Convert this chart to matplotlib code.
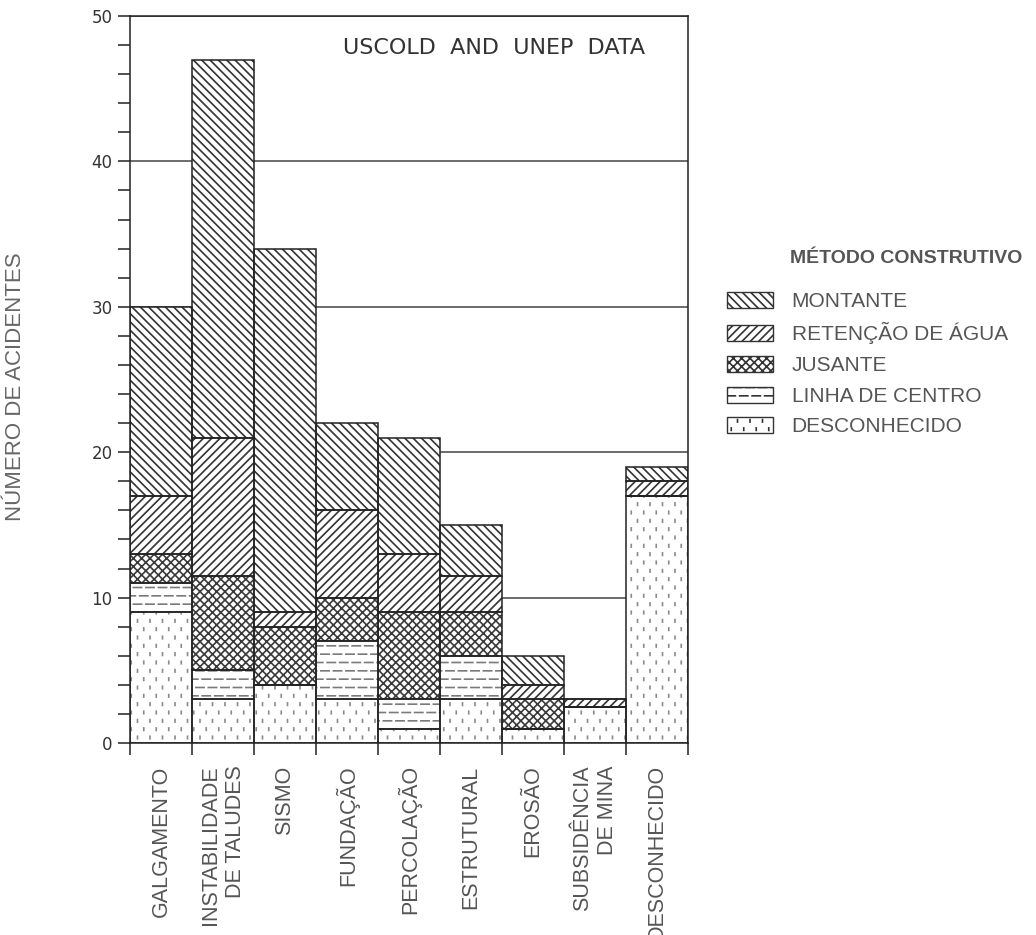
import warnings

import matplotlib
matplotlib.use('Agg')
import matplotlib.pyplot as plt
import matplotlib.hatch as mhatch
import matplotlib.patches as mpatches
from matplotlib.path import Path
import numpy as np

# custom hatch letters ('=' and ':') trigger a deprecation notice, harmless here
warnings.filterwarnings('ignore', message='hatch must consist')


class _StaggeredMarks(mhatch.HatchPatternBase):
    """Rows of short strokes, every other row shifted by half a step."""
    char = None
    col_ratio = 1.0
    half_dx = 0.0
    half_dy = 0.0

    def __init__(self, hatch, density):
        self.num_rows = int(hatch.count(self.char) * density)
        self.num_cols = max(1, int(round(self.num_rows * self.col_ratio))) if self.num_rows else 0
        n_even = (self.num_rows + 1) // 2
        n_odd = self.num_rows // 2
        self.num_vertices = 2 * (n_even * self.num_cols + n_odd * (self.num_cols + 1))

    def set_vertices_and_codes(self, vertices, codes):
        sy = 1.0 / self.num_rows
        sx = 1.0 / self.num_cols
        k = 0
        for r in range(self.num_rows):
            y = (r + 0.5) * sy
            if r % 2 == 0:
                xs = (np.arange(self.num_cols) + 0.5) * sx
            else:
                xs = np.arange(self.num_cols + 1) * sx
            for x in xs:
                vertices[k] = (x - self.half_dx * sx, y - self.half_dy * sy)
                vertices[k + 1] = (x + self.half_dx * sx, y + self.half_dy * sy)
                k += 2
        codes[0::2] = Path.MOVETO
        codes[1::2] = Path.LINETO


class DashHatch(_StaggeredMarks):
    char = '='
    col_ratio = 2 / 3
    half_dx = 0.33


class DotHatch(_StaggeredMarks):
    char = ':'
    col_ratio = 0.65
    half_dy = 0.15


mhatch._hatch_types.extend([DashHatch, DotHatch])

plt.rcParams['font.family'] = ['Liberation Sans', 'DejaVu Sans']
plt.rcParams['hatch.linewidth'] = 1.2

# ---- dados ----
categorias = ['GALGAMENTO', 'INSTABILIDADE\nDE TALUDES', 'SISMO', 'FUNDAÇÃO',
              'PERCOLAÇÃO', 'ESTRUTURAL', 'EROSÃO', 'SUBSIDÊNCIA\nDE MINA',
              'DESCONHECIDO']

# número de acidentes por método construtivo (empilhados de baixo para cima)
desconhecido = [9, 3, 4, 3, 1, 3, 1, 2.5, 17]
linha_centro = [2, 2, 0, 4, 2, 3, 0, 0, 0]
jusante = [2, 6.5, 4, 3, 6, 3, 2, 0, 0]
retencao = [4, 9.5, 1, 6, 4, 2.5, 1, 0.5, 1]
montante = [13, 26, 25, 6, 8, 3.5, 2, 0, 1]

series = [
    ('MONTANTE', montante, '\\\\\\\\', '#333333'),
    ('RETENÇÃO DE ÁGUA', retencao, '////', '#333333'),
    ('JUSANTE', jusante, 'xxxx', '#3a3a3a'),
    ('LINHA DE CENTRO', linha_centro, '==', '#7a7a7a'),
    ('DESCONHECIDO', desconhecido, '::', '#8a8a8a'),
]
empilhamento = list(reversed(series))  # desconhecido fica na base

fig = plt.figure(figsize=(10.36, 9.35), dpi=100)
ax = fig.add_axes([0.1255, 0.2053, 0.5386, 0.7776])

x = np.arange(len(categorias))
base = np.zeros(len(categorias))
for nome, valores, hatch, cor in empilhamento:
    v = np.array(valores, dtype=float)
    # textura
    ax.bar(x, v, width=1.0, bottom=base, color='white', edgecolor=cor,
           linewidth=0, hatch=hatch, zorder=2)
    # contorno
    ax.bar(x, v, width=1.0, bottom=base, fill=False, edgecolor='#222222',
           linewidth=1.1, zorder=3)
    base += v

ax.set_xlim(-0.5, len(categorias) - 0.5)
ax.set_ylim(0, 50)

# eixo y
ax.set_yticks(np.arange(0, 51, 10))
ax.set_yticks(np.arange(0, 51, 2), minor=True)
ax.tick_params(axis='y', which='both', direction='out', length=8.6, width=1.1,
               color='#222222', pad=4)
for lbl in ax.get_yticklabels():
    lbl.set_fontfamily('DejaVu Sans')
    lbl.set_fontsize(12)
    lbl.set_color('#333333')
ax.grid(axis='y', which='major', color='#444444', linewidth=1.1, zorder=0.5)
ax.set_axisbelow(True)

# eixo x: marcas nas divisas, rótulos no centro das barras
ax.set_xticks(np.arange(-0.5, len(categorias), 1.0))
ax.set_xticklabels([])
ax.set_xticks(x, minor=True)
ax.set_xticklabels(categorias, minor=True, rotation=90, ha='center', va='top',
                   multialignment='right', fontsize=15.5, color='#555555')
ax.tick_params(axis='x', which='major', direction='out', length=8.6, width=1.1,
               color='#222222')
ax.tick_params(axis='x', which='minor', length=0, pad=16)

for s in ax.spines.values():
    s.set_color('#222222')
    s.set_linewidth(1.1)

ax.text(0.923, 0.956, 'USCOLD  AND  UNEP  DATA', transform=ax.transAxes,
        ha='right', va='center', fontsize=16, family='DejaVu Sans', color='#333333')

fig.text(0.015, 0.586, 'NÚMERO DE ACIDENTES', rotation=90, ha='center',
         va='center', fontsize=16, color='#666666')

# legenda
fig.text(0.7625, 0.724, 'MÉTODO CONSTRUTIVO', fontsize=14, fontweight='bold',
         color='#555555', ha='left', va='center')
handles = [mpatches.Patch(facecolor='white', edgecolor='#333333', linewidth=1.0,
                          hatch=h) for _, _, h, _ in series]
fig.legend(handles, [s[0] for s in series], loc='upper left',
           bbox_to_anchor=(0.7017, 0.688), frameon=False, fontsize=15,
           labelcolor='#555555', handlelength=2.2, handleheight=0.8,
           handletextpad=0.9, labelspacing=0.55, borderaxespad=0, borderpad=0)

fig.savefig('out.png', dpi=100)
